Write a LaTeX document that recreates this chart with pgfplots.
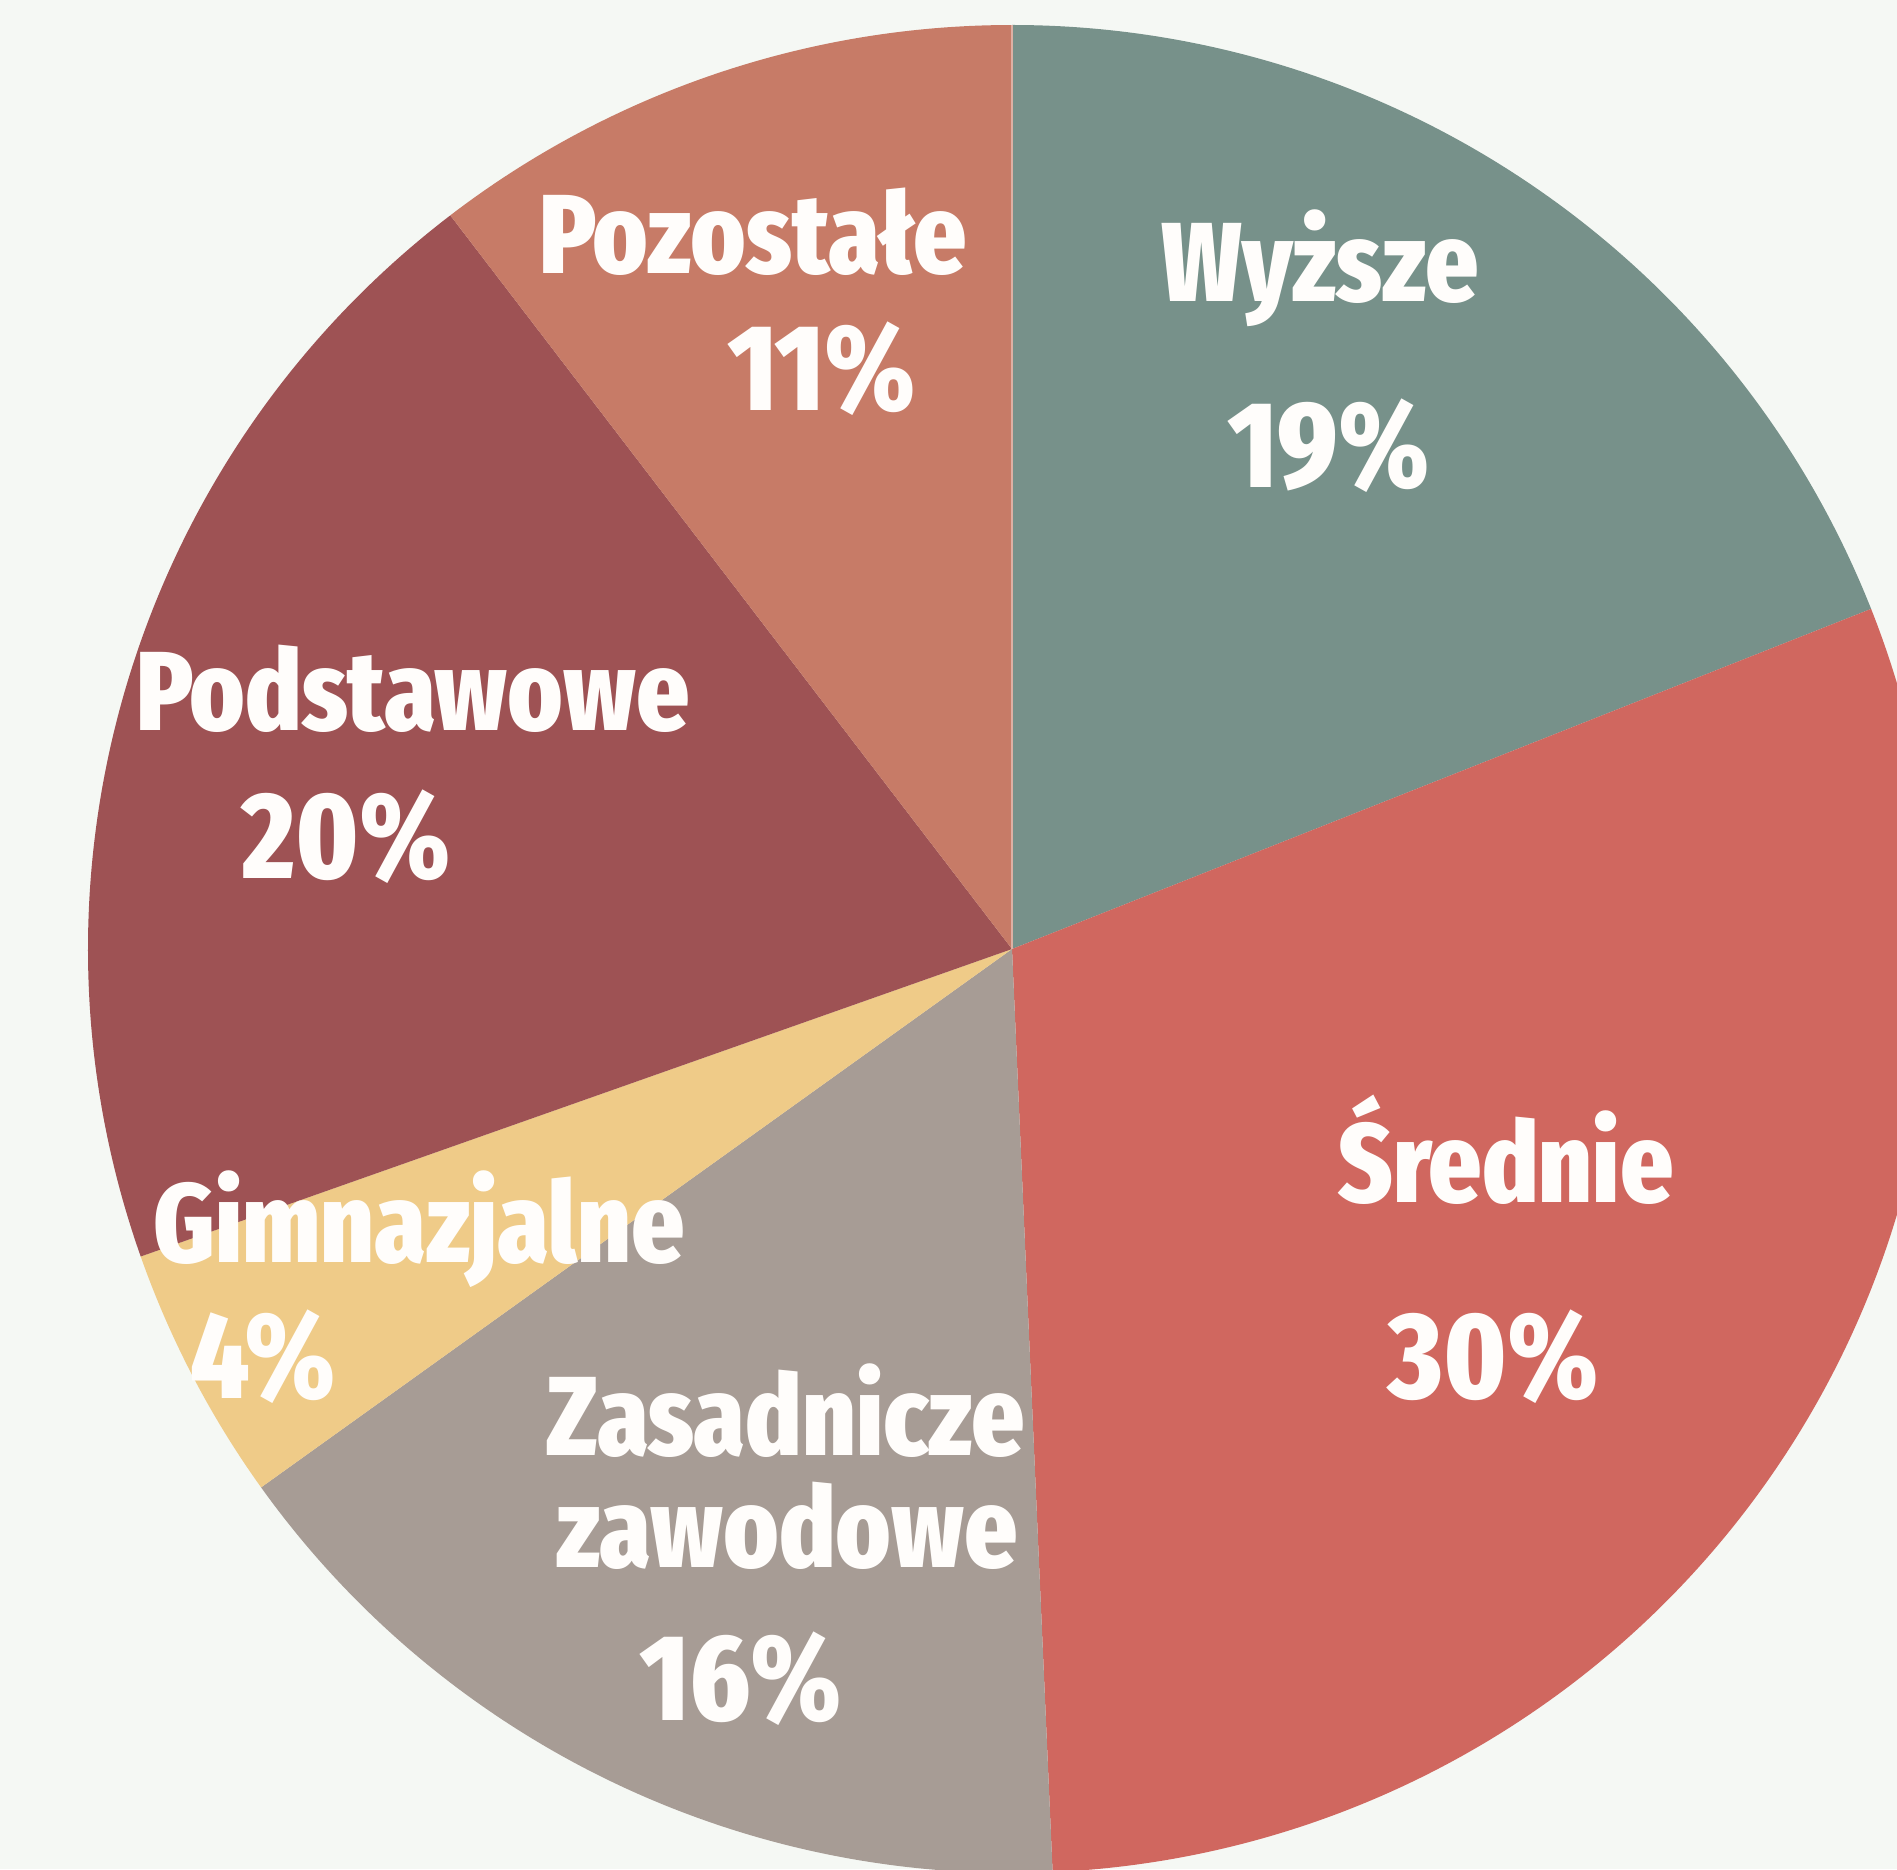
\documentclass[border=0pt]{standalone}
\usepackage{fontspec}
\setmainfont{Fira Sans}
\IfFontExistsTF{Fira Sans Extra Condensed ExtraBold}
  {\newfontfamily\lbl{Fira Sans Extra Condensed ExtraBold}
   \newcommand{\nm}[1]{{\lbl\fontsize{32}{32}\selectfont #1}}
   \newcommand{\pc}[1]{{\lbl\fontsize{35}{35}\selectfont #1}}}
  {\newfontfamily\lbl{Fira Sans ExtraBold}
   \newcommand{\nm}[1]{\scalebox{0.70}[1]{\lbl\fontsize{34}{34}\selectfont #1}}
   \newcommand{\pc}[1]{\scalebox{0.78}[1]{\lbl\fontsize{36.5}{36.5}\selectfont #1}}}
\usepackage{pgfplots}
\pgfplotsset{compat=1.18}
\definecolor{bgc}{HTML}{F5F8F4}
\definecolor{cWy}{HTML}{77918A}
\definecolor{cSr}{HTML}{D0675F}
\definecolor{cZa}{HTML}{A79C95}
\definecolor{cGi}{HTML}{EFCB88}
\definecolor{cPo}{HTML}{9E5254}
\definecolor{cPz}{HTML}{C77B67}
\definecolor{txt}{HTML}{FFFDFB}
% shares in percent (clockwise from the top)
\def\vWy{19.0}\def\vSr{30.3}\def\vZa{15.8}\def\vGi{4.5}\def\vPo{20.0}\def\vPz{10.4}
\begin{document}
\begin{tikzpicture}
\pgfmathsetmacro{\aA}{90}
\pgfmathsetmacro{\aB}{\aA-3.6*\vWy}
\pgfmathsetmacro{\aC}{\aB-3.6*\vSr}
\pgfmathsetmacro{\aD}{\aC-3.6*\vZa}
\pgfmathsetmacro{\aE}{\aD-3.6*\vGi}
\pgfmathsetmacro{\aF}{\aE-3.6*\vPo}
\pgfmathsetmacro{\aG}{\aF-3.6*\vPz}
\begin{axis}[
  width=18.97cm, height=18.69cm, scale only axis,
  xmin=0, xmax=1897, ymin=0, ymax=1869,
  hide axis, clip mode=global,
]
\fill[bgc] (axis cs:0,0) rectangle (axis cs:1897,1869);
\def\cx{1012}\def\cy{920}\def\R{9.24cm}
\fill[cWy] (axis cs:\cx,\cy) -- ++(\aA:\R) arc[start angle=\aA, end angle=\aB, radius=\R] -- cycle;
\fill[cSr] (axis cs:\cx,\cy) -- ++(\aB:\R) arc[start angle=\aB, end angle=\aC, radius=\R] -- cycle;
\fill[cZa] (axis cs:\cx,\cy) -- ++(\aC:\R) arc[start angle=\aC, end angle=\aD, radius=\R] -- cycle;
\fill[cGi] (axis cs:\cx,\cy) -- ++(\aD:\R) arc[start angle=\aD, end angle=\aE, radius=\R] -- cycle;
\fill[cPo] (axis cs:\cx,\cy) -- ++(\aE:\R) arc[start angle=\aE, end angle=\aF, radius=\R] -- cycle;
\fill[cPz] (axis cs:\cx,\cy) -- ++(\aF:\R) arc[start angle=\aF, end angle=\aG, radius=\R] -- cycle;
\draw[color=cPz!60!white, line width=0.6pt] (axis cs:\cx,\cy) -- ++(90:\R);
\tikzset{lb/.style={anchor=base, inner sep=0pt, text=txt}}
\node[lb] at (axis cs:753,1595) {\nm{Pozostałe}};
\node[lb] at (axis cs:822,1459) {\pc{11\%}};
\node[lb] at (axis cs:1320,1567) {\nm{Wyższe}};
\node[lb] at (axis cs:1329,1381) {\pc{19\%}};
\node[lb] at (axis cs:413,1139) {\nm{Podstawowe}};
\node[lb] at (axis cs:347,991) {\pc{20\%}};
\node[lb] at (axis cs:419,607) {\nm{Gimnazjalne}};
\node[lb] at (axis cs:263,471) {\pc{4\%}};
\node[lb] at (axis cs:786,414) {\nm{Zasadnicze}};
\node[lb] at (axis cs:787,302) {\nm{zawodowe}};
\node[lb] at (axis cs:741,149) {\pc{16\%}};
\node[lb] at (axis cs:1506,667) {\nm{Średnie}};
\node[lb] at (axis cs:1494,471) {\pc{30\%}};
\end{axis}
\end{tikzpicture}
\end{document}
